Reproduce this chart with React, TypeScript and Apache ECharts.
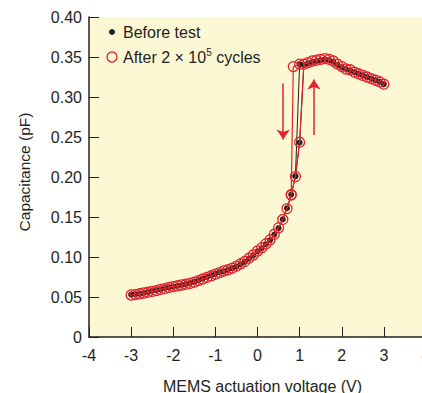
import React, { useEffect, useRef } from "react";
import * as echarts from "echarts";

const voltages = [
  -3.0, -2.9, -2.8, -2.7, -2.6, -2.5, -2.4, -2.3, -2.2, -2.1,
  -2.0, -1.9, -1.8, -1.7, -1.6, -1.5, -1.4, -1.3, -1.2, -1.1,
  -1.0, -0.9, -0.8, -0.7, -0.6, -0.5, -0.4, -0.3, -0.2, -0.1,
  0.0, 0.1, 0.2, 0.3, 0.4, 0.5, 0.6, 0.7, 0.8, 0.9,
  1.0, 1.1, 1.2, 1.3, 1.4, 1.5, 1.6, 1.7, 1.8, 1.9,
  2.0, 2.1, 2.2, 2.3, 2.4, 2.5, 2.6, 2.7, 2.8, 2.9, 3.0,
];

const beforeUp = [
  0.053, 0.0535, 0.054, 0.055, 0.056, 0.0575, 0.0585, 0.0595, 0.061, 0.062,
  0.063, 0.064, 0.065, 0.066, 0.0675, 0.069, 0.071, 0.073, 0.075, 0.077,
  0.079, 0.081, 0.082, 0.084, 0.086, 0.088, 0.091, 0.094, 0.098, 0.102,
  0.107, 0.111, 0.116, 0.121, 0.128, 0.136, 0.147, 0.161, 0.178, 0.201,
  0.243, 0.34, 0.342, 0.344, 0.345, 0.346, 0.347, 0.346, 0.344, 0.34,
  0.337, 0.335, 0.333, 0.331, 0.329, 0.327, 0.325, 0.323, 0.321, 0.319, 0.316,
];

const afterUp = [
  0.0525, 0.053, 0.054, 0.055, 0.056, 0.057, 0.058, 0.0595, 0.0605, 0.062,
  0.063, 0.064, 0.065, 0.066, 0.067, 0.0685, 0.0705, 0.0725, 0.0745, 0.0765,
  0.0785, 0.0805, 0.0825, 0.084, 0.086, 0.0885, 0.0915, 0.0945, 0.0985, 0.1025,
  0.1075, 0.1115, 0.1165, 0.1215, 0.1285, 0.1365, 0.147, 0.1605, 0.1775, 0.2005,
  0.2435, 0.341, 0.343, 0.345, 0.346, 0.347, 0.348, 0.347, 0.345, 0.341,
  0.338, 0.335, 0.334, 0.331, 0.329, 0.327, 0.325, 0.323, 0.321, 0.319, 0.316,
];

// release (down-sweep) branches
const beforeDownV = [1.0, 0.9];
const beforeDownC = [0.341, 0.201];
const afterDownV = [1.0, 0.85, 0.8];
const afterDownC = [0.341, 0.338, 0.178];

// sweep direction arrows [V, C start] -> [V, C end]
const arrowDown = [[0.61, 0.317], [0.61, 0.247]];
const arrowUp = [[1.34, 0.2525], [1.34, 0.322]];

const xTicks = [-4, -3, -2, -1, 0, 1, 2, 3, 4];

const BLACK = "#231f20";
const RED = "#e3222b";
const BG = "#fdf8d4";
const FONT = "Liberation Sans, Arial, Helvetica, sans-serif";

const zip = (xs: number[], ys: number[]) => xs.map((x, i) => [x, ys[i]]);

export default function App() {
  const ref = useRef<HTMLDivElement>(null);
  useEffect(() => {
    document.body.style.margin = "0";
    if (!ref.current) return;
    const chart = echarts.init(ref.current, undefined, { renderer: "svg" });
    const option: any = {
      animation: false,
      grid: {
        left: 89,
        top: 17,
        right: -4,
        bottom: 56,
        outerBoundsMode: "none",
        containLabel: false,
        show: true,
        backgroundColor: BG,
        borderWidth: 0,
      },
      xAxis: {
        type: "value",
        min: xTicks[0],
        max: xTicks[xTicks.length - 1],
        interval: 1,
        name: "MEMS actuation voltage (V)",
        nameLocation: "middle",
        nameGap: 41,
        nameTextStyle: { fontSize: 16, color: BLACK, fontFamily: FONT, padding: [0, 0, 0, 10] },
        axisLine: { show: true, onZero: false, lineStyle: { color: BLACK, width: 1.5 } },
        axisTick: { show: true, inside: true, length: 10, lineStyle: { color: BLACK, width: 1 } },
        axisLabel: { fontSize: 16, color: BLACK, fontFamily: FONT, margin: 10 },
        splitLine: { show: false },
      },
      yAxis: {
        type: "value",
        min: 0,
        max: 0.4,
        interval: 0.05,
        name: "Capacitance (pF)",
        nameLocation: "middle",
        nameGap: 57,
        nameTextStyle: { fontSize: 15.5, color: BLACK, fontFamily: FONT, padding: [0, 0, 0, 10] },
        axisLine: { show: true, onZero: false, lineStyle: { color: BLACK, width: 1.5 } },
        axisTick: { show: true, inside: true, length: 10, lineStyle: { color: BLACK, width: 1 } },
        axisLabel: {
          fontSize: 16,
          color: BLACK,
          fontFamily: FONT,
          margin: 7,
          formatter: (v: number) => (v === 0 ? "0" : v.toFixed(2)),
        },
        splitLine: { show: false },
      },
      series: [
        {
          type: "line",
          data: zip(voltages, beforeUp),
          symbol: "circle",
          symbolSize: 6,
          itemStyle: { color: BLACK },
          lineStyle: { color: BLACK, width: 1 },
          z: 2,
        },
        {
          type: "line",
          data: zip(beforeDownV, beforeDownC),
          symbol: "circle",
          symbolSize: 6,
          itemStyle: { color: BLACK },
          lineStyle: { color: BLACK, width: 1 },
          z: 2,
        },
        {
          type: "line",
          data: zip(voltages, afterUp),
          symbol: "circle",
          symbolSize: 10,
          itemStyle: { color: "rgba(0,0,0,0)", borderColor: RED, borderWidth: 1.3 },
          lineStyle: { color: RED, width: 1.2 },
          z: 3,
        },
        {
          type: "line",
          data: zip(afterDownV, afterDownC),
          symbol: "circle",
          symbolSize: 10,
          itemStyle: { color: "rgba(0,0,0,0)", borderColor: RED, borderWidth: 1.3 },
          lineStyle: { color: RED, width: 1.2 },
          z: 3,
          markLine: {
            silent: true,
            animation: false,
            symbol: ["none", "arrow"],
            symbolSize: 10,
            label: { show: false },
            lineStyle: { color: RED, width: 1.5, type: "solid" },
            data: [
              [{ coord: arrowDown[0] }, { coord: arrowDown[1] }],
              [{ coord: arrowUp[0] }, { coord: arrowUp[1] }],
            ],
          },
        },
      ],
      graphic: [
        { type: "circle", shape: { cx: 112, cy: 32, r: 3 }, style: { fill: BLACK } },
        {
          type: "text",
          x: 123,
          y: 32,
          style: { text: "Before test", fontSize: 16, fontFamily: FONT, fill: BLACK, verticalAlign: "middle" },
        },
        {
          type: "circle",
          shape: { cx: 112, cy: 57, r: 5 },
          style: { fill: "none", stroke: RED, lineWidth: 1.3 },
        },
        {
          type: "text",
          x: 123,
          y: 57,
          style: {
            text: "{a|After 2 × 10}{s|5}{a| cycles}",
            verticalAlign: "middle",
            rich: {
              a: { fontSize: 16, fontFamily: FONT, fill: BLACK, color: BLACK },
              s: { fontSize: 10, fontFamily: FONT, fill: BLACK, color: BLACK, padding: [0, 0, 9, 0] },
            },
          },
        },
      ],
    };
    chart.setOption(option);
    return () => chart.dispose();
  }, []);
  return <div ref={ref} style={{ width: 422, height: 393 }} />;
}
